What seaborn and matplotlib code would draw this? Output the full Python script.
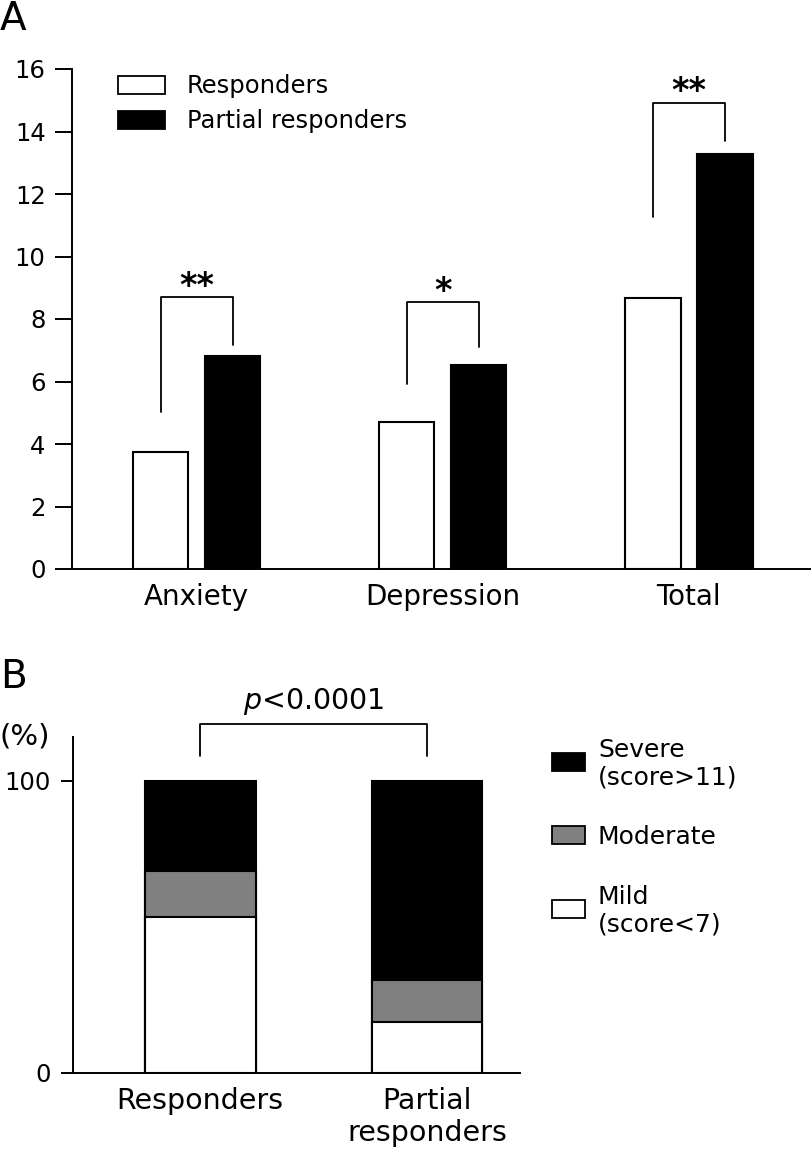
import numpy as np
import pandas as pd
import matplotlib
matplotlib.use("Agg")
import matplotlib.pyplot as plt
import seaborn as sns
from matplotlib.patches import Patch, Rectangle

# ---------------- data ----------------
# Panel A
scales = ["Anxiety", "Depression", "Total"]
groups = ["Responders", "Partial responders"]
responders_scores = [3.75, 4.71, 8.66]
partial_scores = [6.82, 6.53, 13.28]
sig_marks = ["**", "*", "**"]
bracket_top = [8.69, 8.53, 14.92]
bracket_left_end = [5.03, 5.92, 11.27]
bracket_right_end = [7.17, 7.11, 13.70]
yticks_A = [0, 2, 4, 6, 8, 10, 12, 14, 16]

# Panel B
severity_groups = ["Responders", "Partial\nresponders"]
mild = [53.3, 17.5]
moderate = [16.0, 14.5]
severe = [30.7, 68.0]
severity_labels = ["Severe\n(score>11)", "Moderate", "Mild\n(score<7)"]
severity_colors = ["black", "#808080", "white"]
yticks_B = [0, 100]
p_text = "$p$<0.0001"
p_bracket_top = 119.4
p_bracket_end = 108.5

# ---------------- style ----------------
sns.set_style("white")
plt.rcParams["font.family"] = ["DejaVu Sans"]
plt.rcParams["mathtext.fontset"] = "dejavusans"
plt.rcParams["text.color"] = "black"
plt.rcParams["axes.labelcolor"] = "black"
plt.rcParams["xtick.color"] = "black"
plt.rcParams["ytick.color"] = "black"

W, H = 812, 1157
fig = plt.figure(figsize=(W / 100, H / 100), dpi=100)

def fx(px):
    return px / W

def fy(py):
    return 1 - py / H

# ---------------- Panel A ----------------
dfA = pd.DataFrame({
    "scale": scales * 2,
    "group": [groups[0]] * len(scales) + [groups[1]] * len(scales),
    "value": responders_scores + partial_scores,
})
axA = fig.add_axes([fx(72), fy(569), fx(812) - fx(72), fy(69) - fy(569)])
sns.barplot(data=dfA, x="scale", y="value", hue="group", order=scales,
            hue_order=groups, palette={groups[0]: "white", groups[1]: "black"},
            edgecolor="black", linewidth=1.5, width=0.585, gap=0.23,
            saturation=1, errorbar=None, legend=False, ax=axA)
axA.set_xlim(-0.506, 2.5)
axA.set_ylim(0, 16)
axA.set_yticks(yticks_A)
axA.set_xlabel("")
axA.set_ylabel("")
for s in ["top", "right"]:
    axA.spines[s].set_visible(False)
for s in ["left", "bottom"]:
    axA.spines[s].set_linewidth(1.4)
    axA.spines[s].set_color("black")
axA.tick_params(axis="y", direction="out", length=12, width=1.4, pad=7,
                labelsize=17.5, left=True, color="black", labelcolor="black")
axA.tick_params(axis="x", length=0, pad=10, labelsize=20, labelcolor="black")

# bar centres from drawn patches
bars = sorted(axA.patches, key=lambda p: p.get_x())
centers = [b.get_x() + b.get_width() / 2 for b in bars]
for i, mark in enumerate(sig_marks):
    xl, xr = centers[2 * i], centers[2 * i + 1]
    axA.plot([xl, xl, xr, xr],
             [bracket_left_end[i], bracket_top[i], bracket_top[i], bracket_right_end[i]],
             color="black", lw=1.3, clip_on=False)
    axA.text((xl + xr) / 2, bracket_top[i] + 0.05, mark, ha="center",
             va="baseline", fontsize=24, fontweight="bold", color="black")

handles = [Patch(facecolor="white", edgecolor="black", linewidth=1.3),
           Patch(facecolor="black", edgecolor="black", linewidth=1.3)]
axA.legend(handles, groups, loc="upper left", bbox_to_anchor=(fx(118), fy(74)),
           bbox_transform=fig.transFigure, frameon=False, fontsize=17.5,
           handlelength=1.93, handleheight=0.76, handletextpad=0.9,
           labelspacing=0.46, borderpad=0, borderaxespad=0, labelcolor="black")

fig.text(0.0, fy(30), "A", fontsize=28, ha="left", va="baseline")

# ---------------- Panel B ----------------
axB = fig.add_axes([fx(73), fy(1073), fx(520) - fx(73), fy(737) - fy(1073)])
cum_mod = np.array(mild) + np.array(moderate)
cum_sev = cum_mod + np.array(severe)
for vals, col in [(cum_sev, severity_colors[0]), (cum_mod, severity_colors[1]),
                  (np.array(mild), severity_colors[2])]:
    sns.barplot(x=severity_groups, y=vals, color=col, edgecolor="black",
                linewidth=1.5, width=0.4875, saturation=1, errorbar=None, ax=axB)
axB.set_xlim(-0.561, 1.41)
axB.set_ylim(0, 115)
axB.set_yticks(yticks_B)
for s in ["top", "right"]:
    axB.spines[s].set_visible(False)
for s in ["left", "bottom"]:
    axB.spines[s].set_linewidth(1.4)
    axB.spines[s].set_color("black")
axB.tick_params(axis="y", direction="out", length=9, width=1.4, pad=7,
                labelsize=17.5, left=True, color="black", labelcolor="black")
axB.tick_params(axis="x", length=0, pad=10, labelsize=20.5, labelcolor="black")

axB.plot([0, 0, 1, 1], [p_bracket_end, p_bracket_top, p_bracket_top, p_bracket_end],
         color="black", lw=1.3, clip_on=False)
axB.text(0.5, 124.6, p_text, ha="center", va="baseline", fontsize=20.5, color="black")

fig.text(0.0, fy(688), "B", fontsize=28, ha="left", va="baseline")
fig.text(0.0, fy(736), "(%)", fontsize=21, ha="left", va="center")

# manual legend for panel B
legend_rows_px = [762, 835, 909]
for lab, col, ypx in zip(severity_labels, severity_colors, legend_rows_px):
    fig.add_artist(Rectangle((fx(552), fy(ypx + 9)), fx(585) - fx(552), fy(ypx - 9) - fy(ypx + 9),
                             transform=fig.transFigure, facecolor=col,
                             edgecolor="black", linewidth=1.3))
    fig.text(fx(598), fy(ypx + 2), lab, fontsize=18, ha="left", va="center",
             linespacing=1.2)

fig.savefig("out.png", dpi=100)
